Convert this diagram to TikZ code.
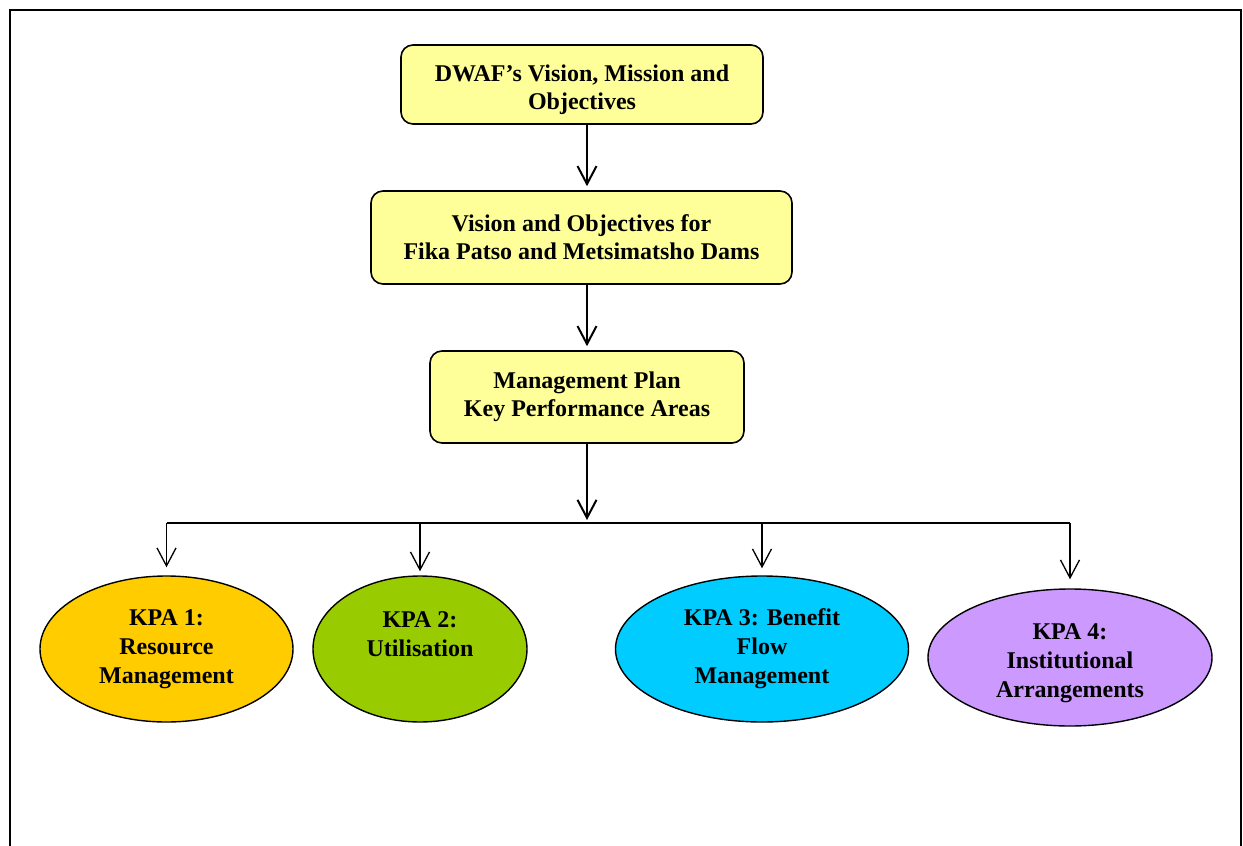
\documentclass[tikz,border=0pt]{standalone}
\usepackage{fontspec}
\setmainfont{Liberation Serif}
\usetikzlibrary{arrows.meta,shapes.geometric}
\definecolor{boxyellow}{HTML}{FFFF99}
\definecolor{kpaorange}{HTML}{FFCC00}
\definecolor{kpagreen}{HTML}{99CC00}
\definecolor{kpacyan}{HTML}{00CCFF}
\definecolor{kpapurple}{HTML}{CC99FF}
\tikzset{
  planbox/.style={draw, line width=0.8pt, fill=boxyellow, rounded corners=6pt, align=center, inner sep=0pt, font=\fontsize{12}{14}\selectfont\bfseries},
  kpa/.style={ellipse, draw, line width=0.7pt, align=center, inner sep=0pt, font=\fontsize{12}{14.5}\selectfont\bfseries},
  mainarrow/.style={line width=1pt, -{Straight Barb[length=9pt,width=9.5pt]}},
  droparrow/.style={line width=0.65pt, -{Straight Barb[length=9pt,width=9.5pt]}}
}
\begin{document}
\begin{tikzpicture}[x=0.5pt,y=-0.5pt]
\useasboundingbox (0,0) rectangle (1243,846);
\draw[line width=1.1pt] (10,846) -- (10,10) -- (1241,10) -- (1241,846);
\node[planbox, minimum width=181pt, minimum height=39.5pt] at (582,84.5) (b1) {\rule{0pt}{14pt}DWAF’s Vision, Mission and\\Objectives};
\node[planbox, minimum width=210.5pt, minimum height=46.5pt] at (581.5,237.5) (b2) {Vision and Objectives for\\Fika Patso and Metsimatsho Dams};
\node[planbox, minimum width=157pt, minimum height=46pt] at (587,397) (b3) {Management Plan\\Key Performance Areas};
\node[kpa, fill=kpaorange, minimum width=126.5pt, minimum height=73pt] at (166.5,649) (k1) {KPA 1:\\Resource\\Management};
\node[kpa, fill=kpagreen, minimum width=107pt, minimum height=73pt] at (420,649) (k2) {\rule{0pt}{11.5pt}KPA 2:\\Utilisation\\\strut};
\node[kpa, fill=kpacyan, minimum width=146.5pt, minimum height=73pt] at (762,649) (k3) {KPA 3: Benefit\\Flow\\Management};
\node[kpa, fill=kpapurple, minimum width=142pt, minimum height=68.5pt] at (1070,657.5) (k4) {\rule{0pt}{14pt}KPA 4:\\Institutional\\Arrangements};
\coordinate (bar) at (587,523);
\draw[mainarrow, shorten >=2pt] (b1.south -| b3.north) -- (b2.north -| b3.north);
\draw[mainarrow, shorten >=2pt] (b2.south -| b3.north) -- (b3.north);
\draw[mainarrow, shorten >=1.5pt] (b3.south) -- (bar);
\draw[line width=0.8pt] (bar -| k1) -- (bar -| k4);
\draw[droparrow, shorten >=4pt] (bar -| k1) -- (k1.north);
\draw[droparrow, shorten >=2pt] (bar -| k2) -- (k2.north);
\draw[droparrow, shorten >=3.5pt] (bar -| k3) -- (k3.north);
\draw[droparrow, shorten >=4.5pt] (bar -| k4) -- (k4.north);
\end{tikzpicture}
\end{document}
